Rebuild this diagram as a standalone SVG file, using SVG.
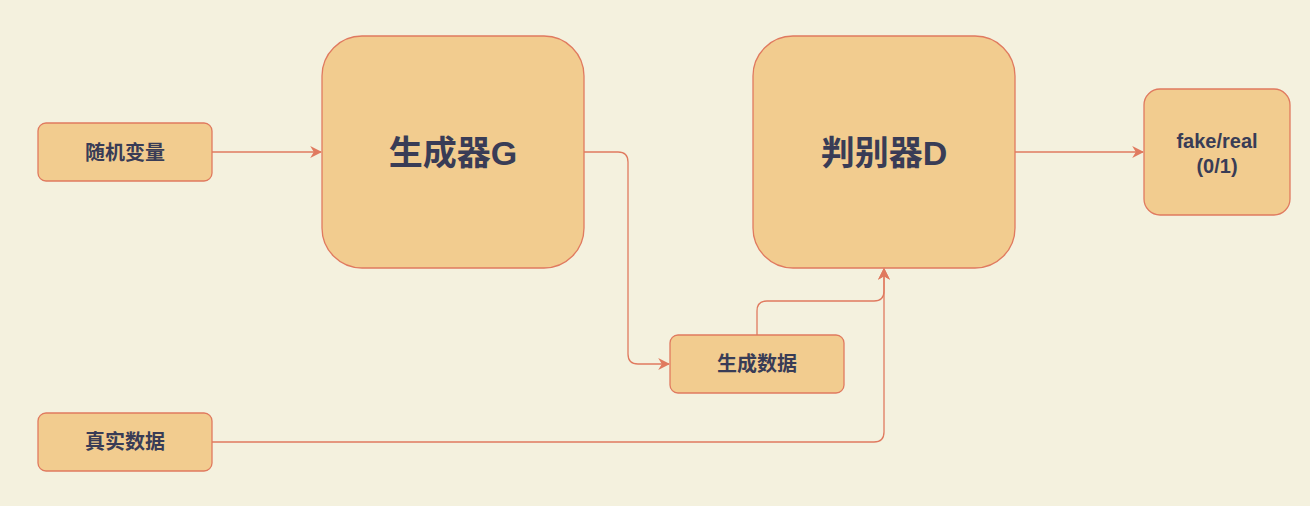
<svg xmlns="http://www.w3.org/2000/svg" width="1310" height="506" viewBox="0 0 1310 506">
<defs>
<marker id="arr" viewBox="0 0 10 10" refX="9" refY="5" markerWidth="12" markerHeight="12" markerUnits="userSpaceOnUse" orient="auto">
<path d="M0,0 L10,5 L0,10 L3,5 Z" fill="#E07A5F"/>
</marker>
<style>
.box{fill:#F2CC8F;stroke:#E07A5F;stroke-width:1.3}
.t{font-family:"Liberation Sans","Noto Sans CJK SC",sans-serif;font-weight:bold;fill:#393C56;text-anchor:middle;dominant-baseline:central}
.s{font-size:20px}
.b{font-size:34px}
.c{fill:none;stroke:#E07A5F;stroke-width:1.3}
</style>
</defs>
<rect width="1310" height="506" fill="#F4F1DE"/>
<g id="connectors">
<path class="c" d="M212,152 L321,152" marker-end="url(#arr)"/>
<path class="c" d="M584,152 L618,152 Q628,152 628,162 L628,354 Q628,364 638,364 L669,364" marker-end="url(#arr)"/>
<path class="c" d="M757,335 L757,311 Q757,301 767,301 L874,301 Q884,301 884,291 L884,269" marker-end="url(#arr)"/>
<path class="c" d="M212,442 L874,442 Q884,442 884,432 L884,269" marker-end="url(#arr)"/>
<path class="c" d="M1015,152 L1143,152" marker-end="url(#arr)"/>
</g>
<g id="random">
<rect class="box" x="38" y="123" width="174" height="58" rx="8"/>
<text class="t s" x="125" y="153">随机变量</text>
</g>
<g id="generator">
<rect class="box" x="322" y="36" width="262" height="232" rx="40"/>
<text class="t b" x="453" y="153">生成器G</text>
</g>
<g id="discriminator">
<rect class="box" x="753" y="36" width="262" height="232" rx="40"/>
<text class="t b" x="884" y="153">判别器D</text>
</g>
<g id="output">
<rect class="box" x="1144" y="89" width="146" height="126" rx="16"/>
<text class="t s" x="1217" y="141">fake/real</text>
<text class="t s" x="1217" y="166">(0/1)</text>
</g>
<g id="gendata">
<rect class="box" x="670" y="335" width="174" height="58" rx="8"/>
<text class="t s" x="757" y="364">生成数据</text>
</g>
<g id="realdata">
<rect class="box" x="38" y="413" width="174" height="58" rx="8"/>
<text class="t s" x="125" y="442">真实数据</text>
</g>
</svg>
